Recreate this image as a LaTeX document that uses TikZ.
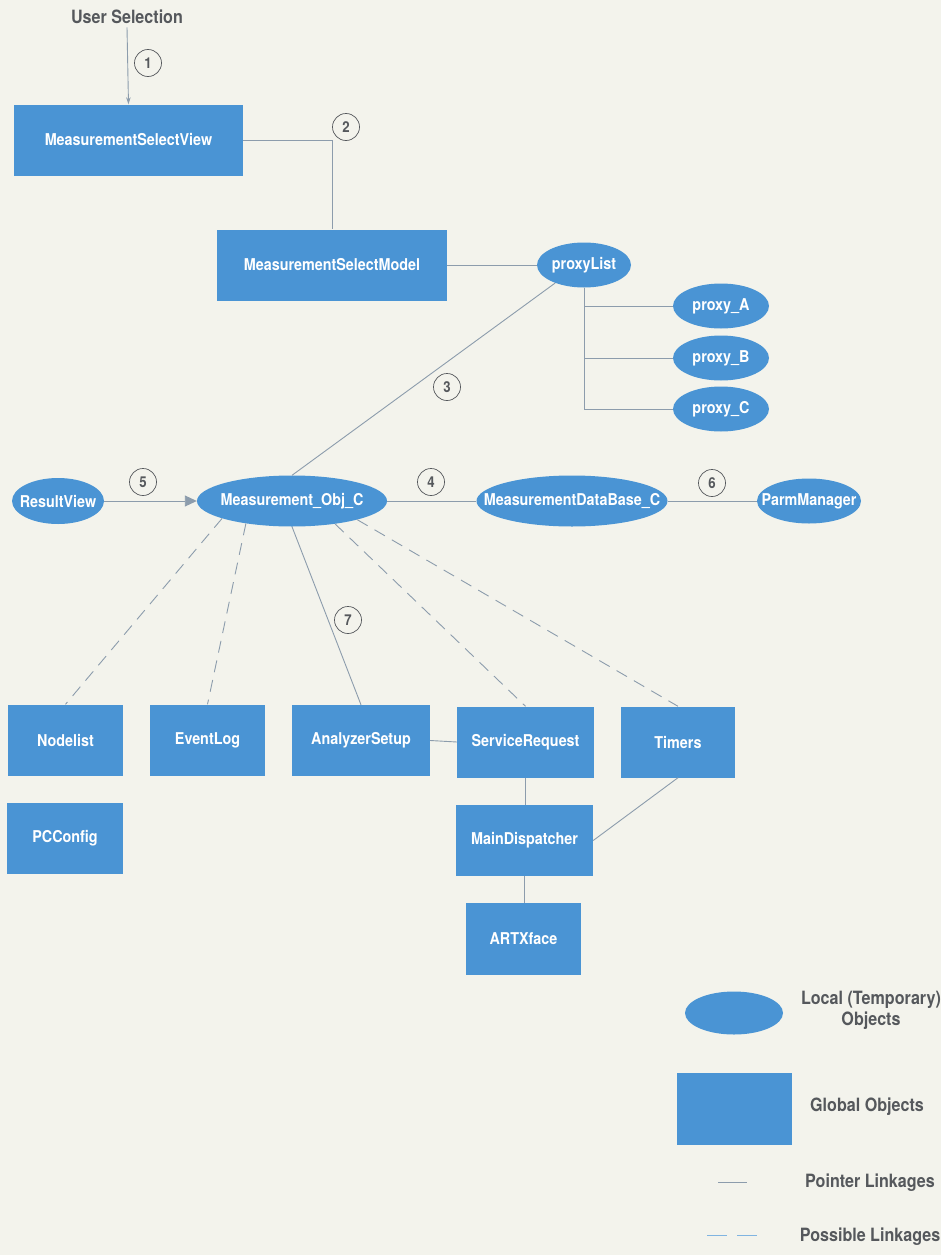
\documentclass[tikz,border=0pt]{standalone}
\usepackage{fontspec}
\setmainfont{TeX Gyre Heros}[FakeStretch=0.88]
\usepackage{tikz}
\usetikzlibrary{shapes,arrows,arrows.meta}
\definecolor{objblue}{RGB}{74,148,212}
\definecolor{linkgray}{RGB}{140,156,172}
\definecolor{papercol}{RGB}{243,243,236}
\definecolor{labelgray}{RGB}{85,88,92}
\newcommand{\objtxt}[1]{\makebox[0pt]{#1}}
\tikzstyle{globalobj} = [rectangle, fill=objblue, text=white, inner sep=0pt,
    font=\fontsize{16.3}{18}\selectfont\bfseries, minimum height=71pt]
\tikzstyle{localobj} = [ellipse, fill=objblue, text=white, inner sep=0pt,
    font=\fontsize{16.3}{18}\selectfont\bfseries, minimum height=45pt]
\tikzstyle{link} = [draw=linkgray, line width=0.9pt]
\tikzstyle{maybelink} = [link, dash pattern=on 12pt off 8pt]
\tikzstyle{stepnum} = [circle, draw=labelgray, line width=0.7pt, minimum size=27pt,
    inner sep=0pt, text=labelgray, font=\fontsize{15}{15}\selectfont\bfseries]
\tikzstyle{caption} = [text=labelgray, align=center,
    font=\fontsize{18.3}{21}\selectfont\bfseries]

\begin{document}
\begin{tikzpicture}[x=1pt, y=-1pt]
    \fill[papercol] (0,0) rectangle (941,1255);
    \useasboundingbox (0,0) rectangle (941,1255);

    % Place nodes
    \node [caption] (usersel) at (127,17) {User Selection};
    \node [globalobj, minimum width=229pt] (msv) at (128.5,140) {MeasurementSelectView};
    \node [globalobj, minimum width=230pt] (msm) at (332,265) {MeasurementSelectModel};
    \node [localobj, minimum width=94pt] (plist) at (584,265) {\objtxt{proxyList}};
    \node [localobj, minimum width=96pt] (pxa) at (721,306) {\objtxt{proxy\_A}};
    \node [localobj, minimum width=96pt] (pxb) at (721,358) {\objtxt{proxy\_B}};
    \node [localobj, minimum width=96pt] (pxc) at (721,409) {\objtxt{proxy\_C}};
    \node [localobj, minimum width=92pt, minimum height=46pt] (rview) at (58,501) {\objtxt{ResultView}};
    \node [localobj, minimum width=190pt, minimum height=51pt] (mobj) at (292,501) {\objtxt{Measurement\_Obj\_C}};
    \node [localobj, minimum width=191pt, minimum height=51pt] (mdb) at (572,501) {\objtxt{MeasurementDataBase\_C}};
    \node [localobj, minimum width=104pt] (parm) at (809,501) {\objtxt{ParmManager}};
    \node [globalobj, minimum width=115pt] (nlist) at (65.5,740) {Nodelist};
    \node [globalobj, minimum width=115pt] (elog) at (207.5,740) {EventLog};
    \node [globalobj, minimum width=138pt] (asetup) at (361,740.5) {AnalyzerSetup};
    \node [globalobj, minimum width=137pt] (sreq) at (525.5,742) {ServiceRequest};
    \node [globalobj, minimum width=114pt] (timers) at (678,742) {Timers};
    \node [globalobj, minimum width=116pt] (pccfg) at (65,838.5) {PCConfig};
    \node [globalobj, minimum width=137pt] (mdisp) at (524.5,840.5) {MainDispatcher};
    \node [globalobj, minimum width=115pt, minimum height=72pt] (artx) at (523.5,939) {ARTXface};

    % Step numbers
    \node [stepnum] (s1) at (148,63) {1};
    \node [stepnum] (s2) at (346,127) {2};
    \node [stepnum] (s3) at (447,387) {3};
    \node [stepnum] (s4) at (431,482) {4};
    \node [stepnum] (s5) at (143,482) {5};
    \node [stepnum] (s6) at (712,483) {6};
    \node [stepnum] (s7) at (348,620) {7};

    % Legend
    \node [localobj, minimum width=98pt, minimum height=43pt] (leglocal) at (734,1013) {};
    \node [caption] (leglocaltxt) at (871,1010) {Local (Temporary)\\Objects};
    \node [globalobj, minimum width=115pt, minimum height=72pt] (legglobal) at (734.5,1109) {};
    \node [caption] (legglobaltxt) at (867,1107) {Global Objects};
    \coordinate (legp1) at (718,1182);
    \coordinate (legp2) at (747,1182);
    \node [caption] (legptrtxt) at (870,1183) {Pointer Linkages};
    \coordinate (legm1) at (707,1235);
    \coordinate (legm2) at (757,1235);
    \node [caption] (legmaybetxt) at (870,1237) {Possible Linkages};

    % Draw edges
    \draw [link, -{Stealth[length=7pt,width=4.5pt]}] (usersel.south) -- (msv.north);
    \draw [link] (msv.east) -| (msm.north);
    \draw [link] (msm.east) -- (plist.west);
    \draw [link] (plist.south) |- (pxa.west);
    \draw [link] (plist.south) |- (pxb.west);
    \draw [link] (plist.south) |- (pxc.west);
    \draw [link] (plist.212) -- (mobj.north);
    \draw [link, -{Triangle[length=12pt,width=11pt]}] (rview.east) -- (mobj.west);
    \draw [link] (mobj.east) -- (mdb.west);
    \draw [link] (mdb.east) -- (parm.west);
    \draw [maybelink] (mobj.194) -- (nlist.north);
    \draw [maybelink] (mobj.206) -- (elog.north);
    \draw [link] (mobj.south) -- (asetup.north);
    \draw [maybelink] (mobj.332) -- (sreq.north);
    \draw [maybelink] (mobj.344) -- (timers.north);
    \draw [link] (asetup.east) -- (sreq.west);
    \draw [link] (sreq.south) -- (sreq.south |- mdisp.north);
    \draw [link] (mdisp.south) -- (mdisp.south |- artx.north);
    \draw [link] (timers.south) -- (mdisp.east);
    \draw [link] (legp1) -- (legp2);
    \draw [link, draw=objblue!70, dash pattern=on 20pt off 10pt] (legm1) -- (legm2);
\end{tikzpicture}
\end{document}
